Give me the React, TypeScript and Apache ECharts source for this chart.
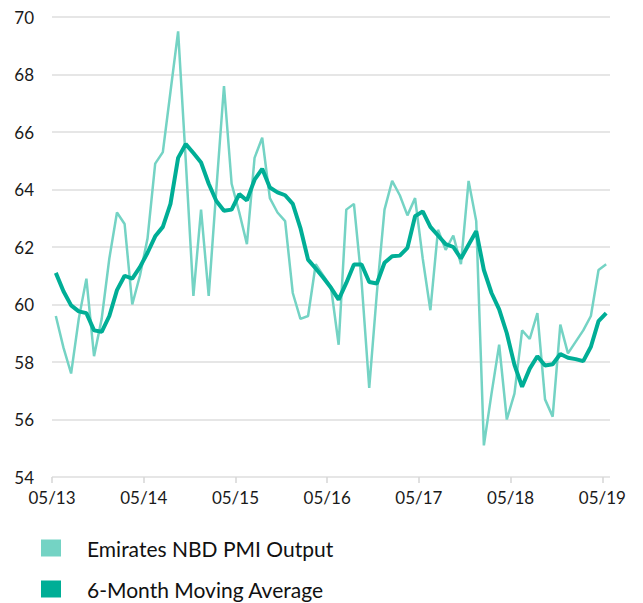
import React, { useEffect, useRef } from "react";
import * as echarts from "echarts";

// Monthly observations from May 2013 to May 2019 (73 months)
const pmiOutput: number[] = [
  59.6, 58.5, 57.6, 59.5, 60.9, 58.2, 59.5, 61.6, 63.2, 62.8, 60.0, 61.0,
  62.3, 64.9, 65.3, 67.4, 69.5, 65.0, 60.3, 63.3, 60.3, 64.0, 67.6, 64.2,
  63.2, 62.1, 65.1, 65.8, 63.7, 63.2, 62.9, 60.4, 59.5, 59.6, 61.4, 61.0,
  60.6, 58.6, 63.3, 63.5, 60.8, 57.1, 60.4, 63.3, 64.3, 63.8, 63.1, 63.7,
  61.6, 59.8, 62.6, 61.9, 62.4, 61.4, 64.3, 62.9, 55.1, 56.9, 58.6, 56.0,
  56.9, 59.1, 58.8, 59.7, 56.7, 56.1, 59.3, 58.3, 58.7, 59.1, 59.6, 61.2,
  61.4,
];

const movingAverage: number[] = [
  61.1, 60.46, 59.97, 59.76, 59.7, 59.1, 59.05, 59.6, 60.5, 61.0, 60.9, 61.3,
  61.8, 62.37, 62.7, 63.5, 65.1, 65.58, 65.27, 64.94, 64.2, 63.6, 63.26, 63.3,
  63.84, 63.62, 64.34, 64.72, 64.07, 63.9, 63.8, 63.5, 62.66, 61.56, 61.25, 60.93,
  60.58, 60.17, 60.75, 61.39, 61.39, 60.78, 60.73, 61.45, 61.68, 61.7, 61.97, 63.07,
  63.24, 62.7, 62.4, 62.1, 62.0, 61.6, 62.08, 62.55, 61.2, 60.4, 59.83, 59.0,
  57.9, 57.14, 57.77, 58.2, 57.88, 57.92, 58.28, 58.15, 58.1, 58.03, 58.53, 59.42,
  59.7,
];

const tickLabels: string[] = ["05/13", "05/14", "05/15", "05/16", "05/17", "05/18", "05/19"];

const seriesNames = ["Emirates NBD PMI Output", "6-Month Moving Average"];
const colors = ["#74d3c4", "#00ae96"];

const FONT = "Lato, 'Open Sans', sans-serif";

export default function App() {
  const ref = useRef<HTMLDivElement>(null);

  useEffect(() => {
    if (!ref.current) return;
    const chart = echarts.init(ref.current, undefined, { renderer: "svg" });

    const monthsPerTick = 12;
    const tickValues = tickLabels.map((_, k) => k * monthsPerTick);
    const toPoints = (arr: number[]) => arr.map((v, i) => [i + 0.5, v]);

    const legendBase = {
      orient: "vertical",
      left: 41,
      itemWidth: 20,
      itemHeight: 17,
      icon: "rect",
      selectedMode: false,
      padding: 0,
      textStyle: {
        fontFamily: FONT,
        fontSize: 21,
        lineHeight: 24,
        color: "#111111",
        padding: [0, 0, 0, 21],
      },
    };

    chart.setOption({
      animation: false,
      color: colors,
      grid: { left: 52, right: 33, top: 17, bottom: 126, containLabel: false },
      legend: [
        { ...legendBase, top: 536, data: [seriesNames[0]] },
        { ...legendBase, top: 577, data: [seriesNames[1]] },
      ],
      xAxis: {
        type: "value",
        min: 0,
        max: 73,
        axisLine: { show: false },
        splitLine: { show: false },
        axisTick: {
          show: true,
          length: 6,
          customValues: tickValues,
          lineStyle: { color: "#d6d6d6", width: 1.5 },
        },
        axisLabel: {
          customValues: tickValues,
          margin: 12,
          fontFamily: FONT,
          fontSize: 17,
          color: "#1a1a1a",
          formatter: (v: number) => {
            const k = Math.round(v / monthsPerTick);
            return tickLabels[k] ?? "";
          },
        },
      },
      yAxis: {
        type: "value",
        min: 54,
        max: 70,
        interval: 2,
        axisLine: { show: false },
        axisTick: { show: false },
        axisLabel: {
          margin: 18,
          fontFamily: FONT,
          fontSize: 17,
          color: "#1a1a1a",
        },
        splitLine: { lineStyle: { color: "#dedede", width: 1.5 } },
      },
      series: [
        {
          name: seriesNames[0],
          type: "line",
          data: toPoints(pmiOutput),
          showSymbol: false,
          symbol: "none",
          lineStyle: { width: 2.5, color: colors[0] },
          itemStyle: { color: colors[0] },
          z: 2,
        },
        {
          name: seriesNames[1],
          type: "line",
          data: toPoints(movingAverage),
          showSymbol: false,
          symbol: "none",
          lineStyle: { width: 4, color: colors[1] },
          itemStyle: { color: colors[1] },
          z: 3,
        },
      ],
    });

    return () => chart.dispose();
  }, []);

  return <div ref={ref} style={{ width: 643, height: 603, position: "absolute", left: 0, top: 0 }} />;
}
